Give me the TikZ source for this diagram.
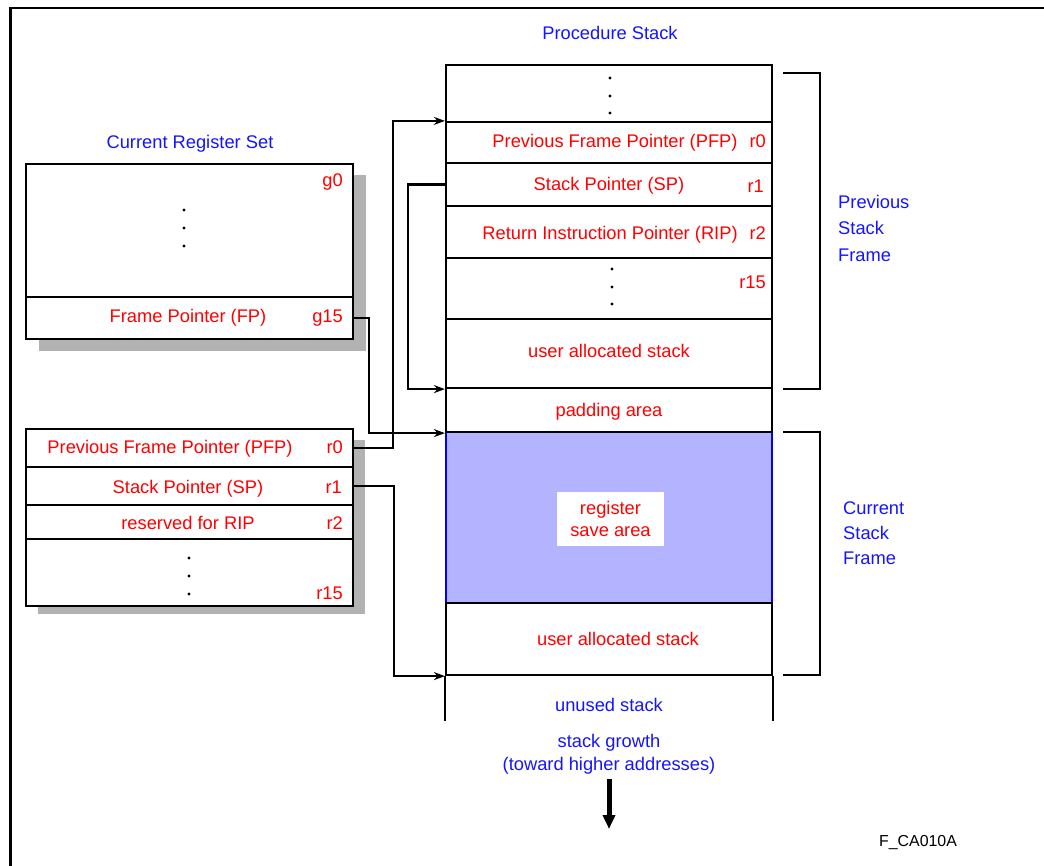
\documentclass[tikz,border=0pt]{standalone}
\usepackage{fontspec}
\setmainfont{Liberation Sans}
\usepackage{xcolor}
\definecolor{saveblue}{RGB}{179,179,255}
\definecolor{shadowgray}{RGB}{178,178,178}
\definecolor{txtred}{RGB}{255,0,0}
\definecolor{txtblue}{RGB}{20,20,255}
\usetikzlibrary{arrows.meta,positioning}

\begin{document}
\begin{tikzpicture}[x=1pt,y=-1pt,
    cell/.style={draw,line width=2.2pt,minimum width=326pt,inner sep=0pt},
    regcell/.style={cell,minimum width=327pt},
    txt/.style={inner sep=0pt,text height=13pt,text depth=4pt,
                font=\fontsize{18.3}{22}\selectfont},
    rtxt/.style={txt,text=txtred},
    btxt/.style={txt,text=txtblue},
    reg/.style={rtxt,anchor=east},
    conn/.style={line width=2.2pt,-{Stealth[length=11pt,width=8pt]}},
    bracket/.style={line width=2.2pt},
    shade/.style={fill=shadowgray}]
  \useasboundingbox (0,0) rectangle (1044,865);
  %% outer frame
  \draw[line width=2.2pt] (10.5,880) -- (10.5,8) -- (1060,8);

  %% Current Register Set
  \node[btxt] (gtitle) at (190,144) {Current Register Set};
  \fill[shade] (39,175) rectangle (366,351);
  \node[regcell,fill=white,minimum height=133pt] (gtop) at (189.5,230.5) {};
  \node[regcell,fill=white,minimum height=42pt] (gfp) at (189.5,318) {};
  \node[reg] (g0) at (343,182) {g0};
  \foreach \y in {210,228,246} \fill (184,\y) circle (1.7pt);
  \node[rtxt] (gfptxt) at (188,318) {Frame Pointer (FP)};
  \node[reg] (g15) at (343,318) {g15};

  %% local registers
  \fill[shade] (38,440) rectangle (365,614);
  \node[regcell,fill=white,minimum height=38pt] (rpfp) at (189.5,448) {};
  \node[regcell,fill=white,minimum height=38pt] (rsp) at (189.5,486) {};
  \node[regcell,fill=white,minimum height=34pt] (rrip) at (189.5,522) {};
  \node[regcell,fill=white,minimum height=67pt] (rrest) at (189.5,572.5) {};
  \node[rtxt] (rpfptxt) at (170,449) {Previous Frame Pointer (PFP)};
  \node[reg] (r0) at (343,449) {r0};
  \node[rtxt] (rsptxt) at (188,489) {Stack Pointer (SP)};
  \node[reg] (r1) at (342,489) {r1};
  \node[rtxt] (rriptxt) at (188,525) {reserved for RIP};
  \node[reg] (r2) at (343,525) {r2};
  \foreach \y in {558,576,594} \fill (189,\y) circle (1.7pt);
  \node[reg] (r15) at (343,595) {r15};

  %% Procedure Stack
  \node[btxt] (stitle) at (610,35) {Procedure Stack};
  \node[cell,fill=saveblue,draw=blue,minimum height=171pt] (ssave) at (609,517.5) {};
  \node[cell,minimum height=57pt] (stop) at (609,93.5) {};
  \node[cell,minimum height=41pt] (spfp) at (609,142.5) {};
  \node[cell,minimum height=43pt] (ssp) at (609,184.5) {};
  \node[cell,minimum height=52pt] (srip) at (609,232) {};
  \node[cell,minimum height=61pt] (srest) at (609,288.5) {};
  \node[cell,minimum height=69pt] (sua) at (609,353.5) {};
  \node[cell,minimum height=44pt] (spad) at (609,410) {};
  \node[cell,minimum height=72pt] (cua) at (609,639) {};
  \draw[line width=2.2pt] (cua.south west) -- ++(0,45);
  \draw[line width=2.2pt] (cua.south east) -- ++(0,45);

  \foreach \y in {78,96,113} \fill (610,\y) circle (1.7pt);
  \node[rtxt] (spfptxt) at (615,143) {Previous Frame Pointer (PFP)};
  \node[reg] (sr0) at (766,143) {r0};
  \node[rtxt] (ssptxt) at (609,186) {Stack Pointer (SP)};
  \node[reg] (sr1) at (764,188) {r1};
  \node[rtxt] (sriptxt) at (610,235) {Return Instruction Pointer (RIP)};
  \node[reg] (sr2) at (766,235) {r2};
  \foreach \y in {269,287,304} \fill (612,\y) circle (1.7pt);
  \node[reg] (sr15) at (766,284) {r15};
  \node[rtxt] (suatxt) at (609,353) {user allocated stack};
  \node[rtxt] (spadtxt) at (609,412) {padding area};
  \node[fill=white,inner sep=0pt,minimum width=107pt,minimum height=54pt,
        align=center,text=txtred,font=\fontsize{18.3}{22}\selectfont]
        (savetxt) at (610.5,519) {register\\save area};
  \node[rtxt] (cuatxt) at (618,641) {user allocated stack};
  \node[btxt] (unused) at (609,707) {unused stack};
  \node[align=center,inner sep=0pt,text=txtblue,font=\fontsize{18.3}{23}\selectfont]
        (growth) at (609,754) {stack growth\\(toward higher addresses)};
  \coordinate (gend) at (609,829);
  \draw[line width=5pt,-{Triangle[length=14pt,width=12pt]}]
        ([yshift=-5pt]growth.south) -- (gend);

  %% frame brackets
  \draw[bracket] (783,73) -- (820,73) -- (820,389) -- (783,389);
  \draw[bracket] (783,432) -- (820,432) -- (820,675) -- (783,675);
  \node[align=left,anchor=north west,inner sep=0pt,text=txtblue,
        font=\fontsize{18.3}{26.5}\selectfont] (prevf) at (838,195) {Previous\\Stack\\Frame};
  \node[align=left,anchor=north west,inner sep=0pt,text=txtblue,
        font=\fontsize{18.3}{25}\selectfont] (curf) at (843,502) {Current\\Stack\\Frame};

  %% pointers
  \draw[conn] (gfp.east) -- ++(15,0) |- (spad.south west);
  \draw[conn] (rpfp.east) -- ++(39,0) |- (spfp.north west);
  \draw[conn] (ssp.west) -- ++(-37,0) |- (sua.south west);
  \draw[conn] (rsp.east) -- ++(40,0) |- (cua.south west);

  \node[inner sep=0pt,font=\fontsize{15.9}{18}\selectfont] (figid) at (918,843) {F\_CA010A};
\end{tikzpicture}
\end{document}
